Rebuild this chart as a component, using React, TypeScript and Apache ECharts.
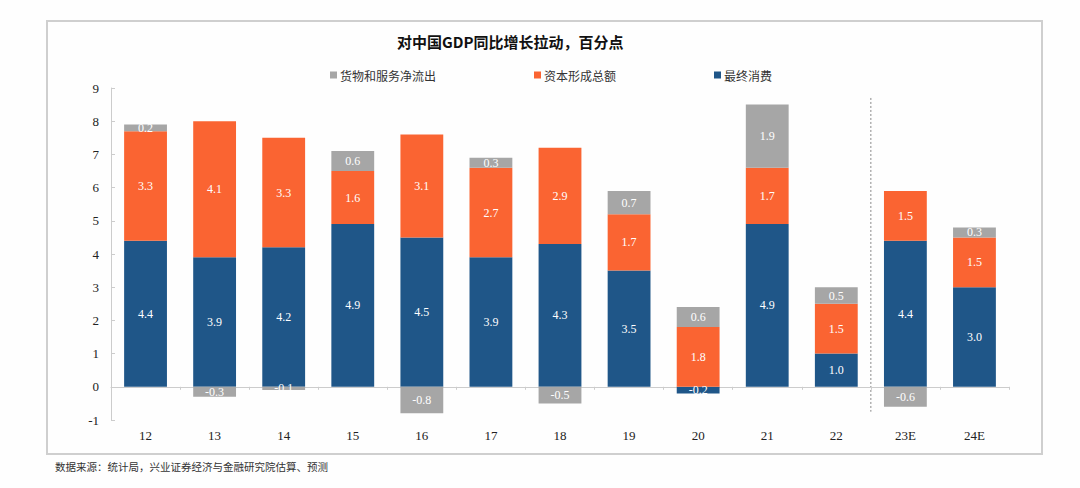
import React, { useEffect, useRef } from "react";
import * as echarts from "echarts";

const categories = ["12", "13", "14", "15", "16", "17", "18", "19", "20", "21", "22", "23E", "24E"];
const consumption = [4.4, 3.9, 4.2, 4.9, 4.5, 3.9, 4.3, 3.5, -0.2, 4.9, 1.0, 4.4, 3.0];
const capital = [3.3, 4.1, 3.3, 1.6, 3.1, 2.7, 2.9, 1.7, 1.8, 1.7, 1.5, 1.5, 1.5];
const netExports = [0.2, -0.3, -0.1, 0.6, -0.8, 0.3, -0.5, 0.7, 0.6, 1.9, 0.5, -0.6, 0.3];
const seriesNames = ["货物和服务净流出", "资本形成总额", "最终消费"];
const title = "对中国GDP同比增长拉动，百分点";
const source = "数据来源：统计局，兴业证券经济与金融研究院估算、预测";

const serif = "'Liberation Serif', 'DejaVu Serif', serif";
const cjk = "'Noto Sans CJK SC', sans-serif";

export default function App() {
  const ref = useRef<HTMLDivElement>(null);
  useEffect(() => {
    if (!ref.current) return;
    const chart = echarts.init(ref.current, null, { renderer: "svg" });
    const label = {
      show: true,
      position: "inside",
      color: "#ffffff",
      fontFamily: serif,
      fontSize: 12,
      formatter: (p: any) => Number(p.value).toFixed(1),
    };
    const mk = (name: string, data: number[], color: string) => ({
      name,
      type: "bar",
      stack: "gdp",
      data,
      barCategoryGap: "38%",
      itemStyle: { color },
      label,
    });
    chart.setOption({
      animation: false,
      backgroundColor: "#fefefe",
      title: {
        text: title,
        left: 392,
        top: 29,
        textStyle: { fontFamily: cjk, fontSize: 15, fontWeight: "bold", color: "#111" },
      },
      legend: {
        data: seriesNames,
        left: 325,
        top: 64,
        icon: "rect",
        itemWidth: 7,
        itemHeight: 7,
        itemGap: 98,
        textStyle: { fontFamily: cjk, fontSize: 12, color: "#333", padding: [0, 0, 0, -2] },
      },
      grid: { left: 111, right: 71, top: 88, bottom: 68 },
      xAxis: {
        type: "category",
        data: categories,
        axisLine: { onZero: true, lineStyle: { color: "#cccccc", width: 1 } },
        axisTick: { show: true, length: 3, lineStyle: { color: "#cccccc" } },
        axisLabel: { show: false },
      },
      yAxis: {
        type: "value",
        min: -1,
        max: 9,
        interval: 1,
        splitLine: { show: false },
        axisLine: { show: true, lineStyle: { color: "#cccccc" } },
        axisTick: { show: true, inside: true, length: 4, lineStyle: { color: "#cccccc" } },
        axisLabel: { fontFamily: serif, fontSize: 13, color: "#222", margin: 12 },
      },
      series: [
        mk(seriesNames[2], consumption, "#1f5688"),
        mk(seriesNames[1], capital, "#fa6432"),
        mk(seriesNames[0], netExports, "#a6a6a6"),
      ],
    });
    const x0 = chart.convertToPixel({ xAxisIndex: 0 }, "22") as number;
    const x1 = chart.convertToPixel({ xAxisIndex: 0 }, "23E") as number;
    const yTop = chart.convertToPixel({ yAxisIndex: 0 }, 8.7) as number;
    const yBot = chart.convertToPixel({ yAxisIndex: 0 }, -0.75) as number;
    const yLab = chart.convertToPixel({ yAxisIndex: 0 }, -1) as number;
    const xmid = (x0 + x1) / 2;
    chart.setOption({
      graphic: [
        {
          type: "rect",
          shape: { x: 47, y: 21, width: 995, height: 433 },
          style: { fill: "none", stroke: "#cfcfcf", lineWidth: 2 },
          silent: true,
        },
        {
          type: "line",
          shape: { x1: xmid, y1: yTop, x2: xmid, y2: yBot },
          style: { stroke: "#888", lineWidth: 1, lineDash: [2, 2] },
        },
        ...categories.map((c) => ({
          type: "text",
          x: chart.convertToPixel({ xAxisIndex: 0 }, c) as number,
          y: yLab + 15,
          style: {
            text: c,
            fontFamily: serif,
            fontSize: 13,
            fill: "#222",
            align: "center",
            verticalAlign: "middle",
          },
        })),
        {
          type: "text",
          x: 55,
          y: 466,
          style: {
            text: source,
            fontFamily: cjk,
            fontSize: 10.5,
            fill: "#333",
            verticalAlign: "middle",
          },
        },
      ],
    });
    return () => chart.dispose();
  }, []);
  return (
    <div
      ref={ref}
      style={{ position: "fixed", left: 0, top: 0, width: 1080, height: 488 }}
    />
  );
}
